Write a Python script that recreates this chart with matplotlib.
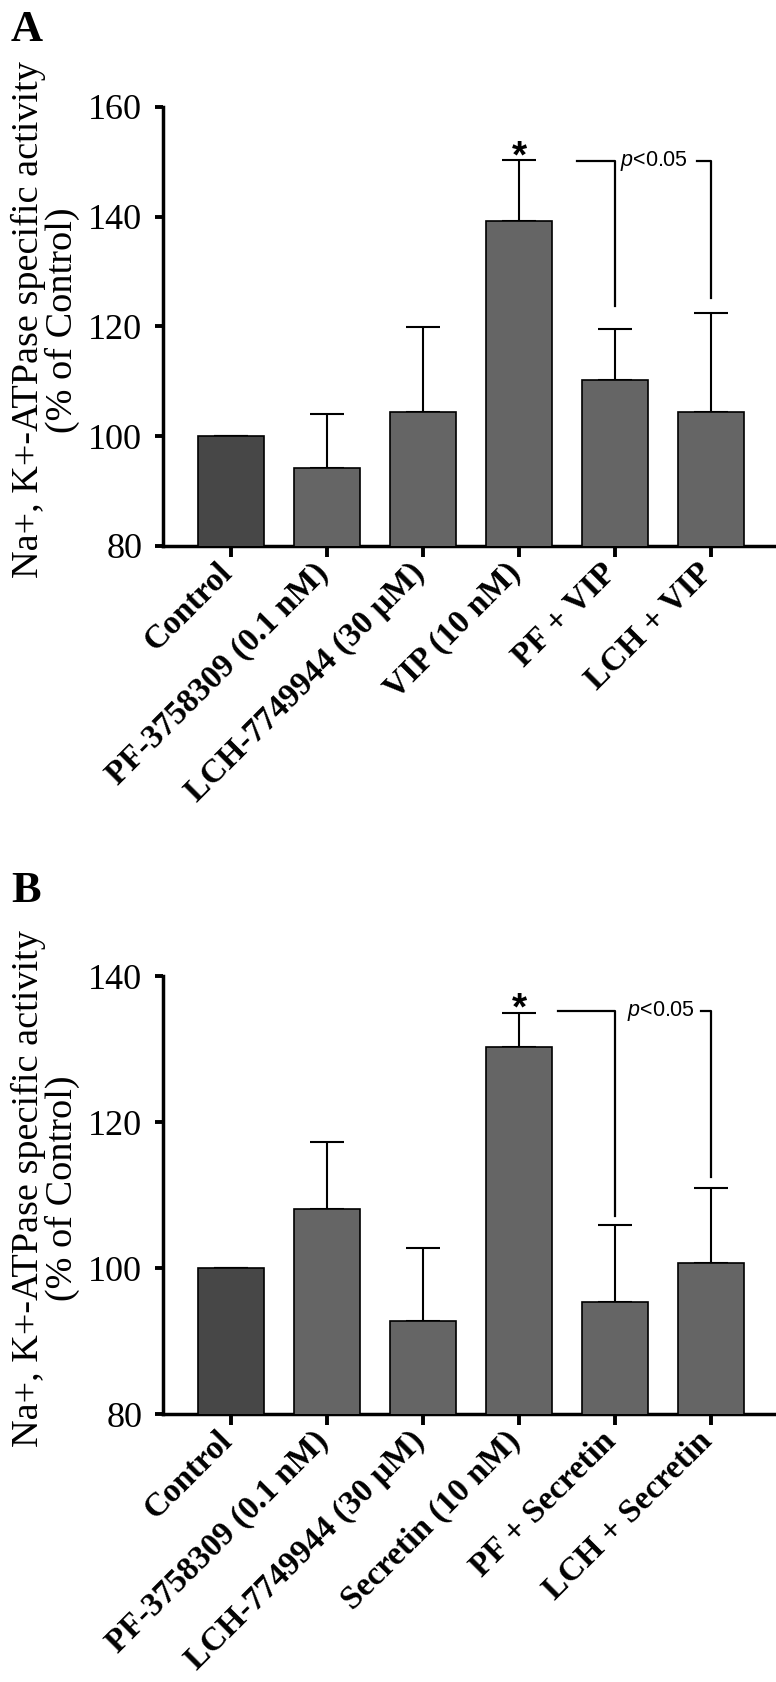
import matplotlib
matplotlib.use('Agg')
import matplotlib.pyplot as plt
import numpy as np

# Panel A data (VIP)
labels_a = ['Control', 'PF-3758309 (0.1 nM)', 'LCH-7749944 (30 \u03bcM)',
            'VIP (10 nM)', 'PF + VIP', 'LCH + VIP']
means_a = [100.0, 94.3, 104.5, 139.3, 110.2, 104.5]
errs_a = [0.0, 9.8, 15.4, 11.0, 9.3, 17.9]

# Panel B data (Secretin)
labels_b = ['Control', 'PF-3758309 (0.1 nM)', 'LCH-7749944 (30 \u03bcM)',
            'Secretin (10 nM)', 'PF + Secretin', 'LCH + Secretin']
means_b = [100.0, 108.1, 92.7, 130.3, 95.4, 100.7]
errs_b = [0.0, 9.2, 10.0, 4.7, 10.5, 10.2]

plt.rcParams['font.family'] = ['Liberation Serif', 'DejaVu Serif']
plt.rcParams['mathtext.fontset'] = 'custom'
plt.rcParams['mathtext.it'] = 'Liberation Sans:italic'
plt.rcParams['mathtext.rm'] = 'Liberation Sans'

BAR_COLORS = ['#474747'] + ['#656565'] * 5


def draw_panel(ax, labels, means, errs, ylim, yticks, bracket):
    """Draws one bar panel with upper-only error bars and significance marks."""
    x = np.arange(len(labels))
    ax.bar(x, means, width=0.68, color=BAR_COLORS, edgecolor='black',
           linewidth=1.2, zorder=3)
    lower = np.zeros(len(errs))
    ax.errorbar(x, means, yerr=[lower, errs], fmt='none', ecolor='black',
                elinewidth=1.5, capsize=12, capthick=1.5, zorder=2)

    ax.set_xlim(-0.708, 5.677)
    ax.set_ylim(*ylim)
    ax.set_yticks(yticks)
    ax.set_xticks(x)
    ax.set_xticklabels([])
    # slanted category labels, ending just under their ticks
    for xi, lab in zip(x, labels):
        ax.annotate(lab, xy=(xi, 0), xycoords=('data', 'axes fraction'),
                    xytext=(-2.5, -16), textcoords='offset points',
                    rotation=45, ha='right', va='center', rotation_mode='anchor',
                    fontweight='bold', fontsize=24, annotation_clip=False)
    ax.tick_params(axis='y', labelsize=26, width=2.8, length=6, pad=9)
    ax.tick_params(axis='x', width=2.8, length=8)
    for side in ['top', 'right']:
        ax.spines[side].set_visible(False)
    for side in ['left', 'bottom']:
        ax.spines[side].set_linewidth(2.5)

    ax.set_ylabel('Na+, K+-ATPase specific activity\n(% of Control)',
                  fontsize=27.5, linespacing=0.95)
    ax.yaxis.set_label_coords(-0.135, 0.515)

    # asterisk over the peptide alone
    ax.annotate('*', xy=(3, means[3] + errs[3]), xytext=(0, -5),
                textcoords='offset points', ha='center', va='baseline',
                fontsize=28, family='Liberation Sans', fontweight='bold')

    # p<0.05 bracket
    y_top, x_start, y_left, y_right, x_text, x_rstart = bracket
    ax.plot([x_start, 4, 4], [y_top, y_top, y_left], color='black', lw=1.6,
            clip_on=False)
    ax.plot([x_rstart, 5, 5], [y_top, y_top, y_right], color='black', lw=1.6,
            clip_on=False)
    ax.text(x_text, y_top, r'$\mathit{p}$<0.05', ha='left', va='center',
            fontsize=15.5, family='Liberation Sans')


fig = plt.figure(figsize=(7.76, 16.82), dpi=100)
ax_a = fig.add_axes([0.2101, 0.6754, 0.7899, 0.2610])
ax_b = fig.add_axes([0.2101, 0.1593, 0.7899, 0.2604])

draw_panel(ax_a, labels_a, means_a, errs_a, (80, 160), [80, 100, 120, 140, 160],
           (150.2, 3.60, 123.7, 125.2, 4.05, 4.85))
draw_panel(ax_b, labels_b, means_b, errs_b, (80, 140), [80, 100, 120, 140],
           (135.2, 3.41, 107.1, 112.5, 4.12, 4.90))

fig.text(0.014, 0.994, 'A', fontsize=32, fontweight='bold', va='top', ha='left')
fig.text(0.014, 0.482, 'B', fontsize=32, fontweight='bold', va='top', ha='left')

fig.savefig('out.png', dpi=100)
